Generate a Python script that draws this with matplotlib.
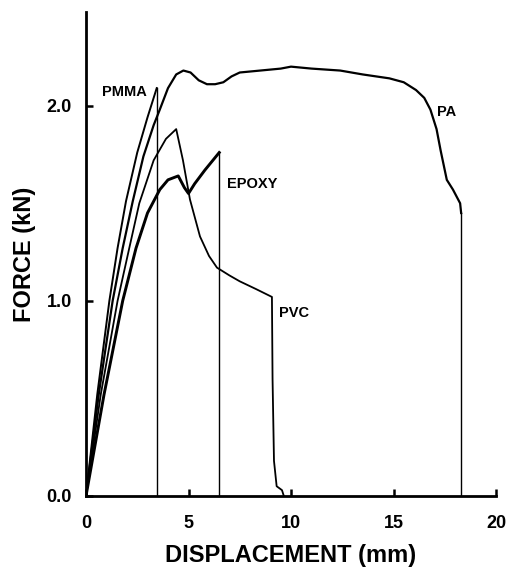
import numpy as np
import matplotlib
matplotlib.use("Agg")
import matplotlib.pyplot as plt

plt.rcParams['font.family'] = ['Liberation Sans', 'DejaVu Sans']
plt.rcParams['font.weight'] = 'bold'

# curvas fuerza-desplazamiento (mm, kN)
pmma_x = [0, 0.55, 1.14, 1.54, 1.95, 2.5, 3.0, 3.45, 3.45]
pmma_y = [0, 0.52, 1.0, 1.27, 1.51, 1.76, 1.94, 2.09, 0]

pa_x = [0, 0.62, 1.30, 1.79, 2.28, 2.8, 3.3, 3.6, 4.0, 4.4, 4.75, 5.1, 5.5,
        5.9, 6.3, 6.7, 7.1, 7.5, 8.5, 9.5, 10.0, 11, 12.4, 13.5, 14.8, 15.5, 16.1,
        16.5, 16.8, 17.1, 17.3, 17.6, 17.9, 18.1, 18.25, 18.3, 18.3]
pa_y = [0, 0.52, 1.0, 1.27, 1.51, 1.74, 1.9, 1.98, 2.09, 2.16, 2.18, 2.17, 2.13,
        2.11, 2.11, 2.12, 2.15, 2.17, 2.18, 2.19, 2.2, 2.19, 2.18, 2.16, 2.14, 2.12,
        2.08, 2.04, 1.98, 1.88, 1.77, 1.62, 1.57, 1.53, 1.50, 1.45, 0]

pvc_x = [0, 0.72, 1.54, 2.11, 2.6, 3.3, 3.9, 4.4, 4.73, 5.07, 5.56, 6.0,
         6.39, 7.0, 7.5, 8.3, 9.07, 9.1, 9.17, 9.3, 9.56, 9.65]
pvc_y = [0, 0.52, 1.0, 1.27, 1.5, 1.72, 1.83, 1.88, 1.72, 1.52, 1.33, 1.23,
         1.17, 1.13, 1.10, 1.06, 1.02, 0.6, 0.18, 0.05, 0.03, 0]

epoxy_x = [0, 0.88, 1.79, 2.44, 3.0, 3.6, 4.0, 4.5, 4.8, 5.0, 5.3, 5.8, 6.5, 6.5]
epoxy_y = [0, 0.52, 1.0, 1.27, 1.45, 1.57, 1.62, 1.64, 1.58, 1.55, 1.60, 1.67,
           1.76, 0]

etiquetas = ["PMMA", "PA", "EPOXY", "PVC"]
etiq_x = [0.78, 17.1, 6.9, 9.4]
etiq_y = [2.07, 1.97, 1.6, 0.94]

xticks = [0, 5, 10, 15, 20]
yticks = [0.0, 1.0, 2.0]

fig = plt.figure(figsize=(5.1, 5.71), dpi=100)
ax = fig.add_axes([86/510, 75/571, 410/510, 484/571])

# curva y caida final (la caida es una linea mas fina)
for cx, cy, w in [(pmma_x, pmma_y, 1.4), (pa_x, pa_y, 1.6),
                  (pvc_x, pvc_y, 1.3), (epoxy_x, epoxy_y, 2.1)]:
    if cx[-1] == cx[-2]:
        ax.plot(cx[:-1], cy[:-1], color="black", lw=w)
        ax.plot(cx[-2:], cy[-2:], color="black", lw=1.0)
    else:
        ax.plot(cx, cy, color="black", lw=w)

for t, x, y in zip(etiquetas, etiq_x, etiq_y):
    ax.text(x, y, t, fontsize=10.5, fontweight="bold", ha="left", va="center")

ax.set_xlim(0, 20)
ax.set_ylim(0, 2.48)
ax.spines["top"].set_visible(False)
ax.spines["right"].set_visible(False)
ax.spines["left"].set_linewidth(2.0)
ax.spines["bottom"].set_linewidth(2.0)
ax.set_xticks(xticks)
ax.set_xticklabels([str(v) for v in xticks])
ax.set_yticks(yticks)
ax.set_yticklabels(["%.1f" % v for v in yticks])
ax.tick_params(direction="in", length=5, width=1.8, labelsize=13, pad=14)
ax.tick_params(axis="y", pad=10)
for lab in ax.get_xticklabels() + ax.get_yticklabels():
    lab.set_fontweight("bold")

ax.set_xlabel("DISPLACEMENT (mm)", fontsize=17, fontweight="bold", labelpad=8)
ax.set_ylabel("FORCE (kN)", fontsize=17, fontweight="bold", labelpad=8)

plt.savefig("out.png", dpi=100)
